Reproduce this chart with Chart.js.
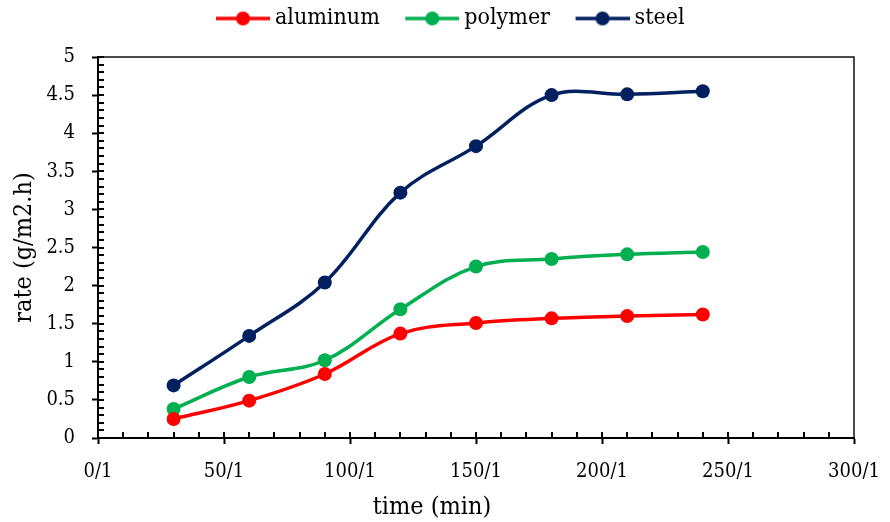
<!DOCTYPE html>
<html><head><meta charset="utf-8">
<script src="https://cdn.jsdelivr.net/npm/chart.js@4.4.1/dist/chart.umd.min.js"></script>
<style>html,body{margin:0;padding:0;background:#fff;overflow:hidden}#wrap{width:890px;height:522px}</style>
</head><body><div id="wrap"><canvas id="c" width="890" height="522"></canvas></div>
<script>
const timeMin = [30, 60, 90, 120, 150, 180, 210, 240];
const aluminum = [0.25, 0.49, 0.84, 1.37, 1.51, 1.57, 1.60, 1.62];
const polymer = [0.38, 0.80, 1.02, 1.69, 2.25, 2.35, 2.41, 2.44];
const steel = [0.69, 1.34, 2.04, 3.22, 3.83, 4.50, 4.51, 4.55];
const seriesNames = ['aluminum', 'polymer', 'steel'];
const seriesValues = [aluminum, polymer, steel];
const seriesColors = ['#FF0000', '#00B050', '#002060'];
const xTickSuffix = '/1';
const xAxisTitle = 'time (min)';
const yAxisTitle = 'rate (g/m2.h)';

const FONT = "'DejaVu Serif Condensed', 'DejaVu Serif', serif";
const LEG_FONT = 23;
const LEG_PAD = 7;
const LEG_BOX = 66;
const X_TITLE_SHIFT = -44;
const LEGEND_SHIFT = 14;

function legendIcon(color) {
  const W = LEG_BOX + Math.round(LEG_FONT / 2) + 1;
  const cv = document.createElement('canvas');
  cv.width = W; cv.height = 16;
  const g = cv.getContext('2d');
  g.strokeStyle = color; g.lineWidth = 3.5;
  g.beginPath(); g.moveTo(W - 54, 8); g.lineTo(W, 8); g.stroke();
  g.fillStyle = color; g.beginPath(); g.arc(W - 27, 8, 7, 0, Math.PI * 2); g.fill();
  return cv;
}
const icons = seriesColors.map(legendIcon);

const datasets = seriesNames.map((n, i) => ({
  label: n,
  data: timeMin.map((t, k) => ({x: t, y: seriesValues[i][k]})),
  borderColor: seriesColors[i],
  backgroundColor: seriesColors[i],
  borderWidth: 3.5,
  pointRadius: 7,
  pointHoverRadius: 7,
  pointBorderWidth: 0,
  tension: 0.37,
  fill: false
}));

const decor = {
  id: 'decor',
  afterLayout(chart) {
    const lg = chart.legend;
    if (lg) { lg.left += LEGEND_SHIFT; lg.right += LEGEND_SHIFT; }
    const xs = chart.scales.x;
    if (xs && !xs._titleShifted) {
      const orig = xs.drawTitle;
      xs.drawTitle = function () {
        this.left += X_TITLE_SHIFT; this.right += X_TITLE_SHIFT;
        try { orig.apply(this, arguments); }
        finally { this.left -= X_TITLE_SHIFT; this.right -= X_TITLE_SHIFT; }
      };
      xs._titleShifted = true;
    }
  },
  afterDraw(chart) {
    const {ctx, scales: {x, y}} = chart;
    ctx.save();
    const x0 = x.getPixelForValue(0), y0 = y.getPixelForValue(0);
    const xr = x.getPixelForValue(300), yt = y.getPixelForValue(5);
    ctx.lineWidth = 1.5;
    ctx.strokeStyle = '#111';
    ctx.beginPath();
    ctx.moveTo(x0, yt); ctx.lineTo(xr, yt); ctx.lineTo(xr, y0);
    ctx.stroke();
    ctx.lineWidth = 2;
    ctx.strokeStyle = '#000';
    ctx.beginPath();
    for (let v = 1; v <= 50; v++) {
      const py = Math.round(y.getPixelForValue(v / 10));
      ctx.moveTo(x0, py); ctx.lineTo(x0 + 6, py);
    }
    for (let v = 10; v < 300; v += 10) {
      const px = Math.round(x.getPixelForValue(v));
      ctx.moveTo(px, y0); ctx.lineTo(px, y0 - 6);
    }
    ctx.stroke();
    ctx.restore();
  }
};

new Chart(document.getElementById('c'), {
  type: 'line',
  data: {datasets},
  plugins: [decor],
  options: {
    responsive: false,
    animation: false,
    devicePixelRatio: 1,
    layout: {padding: {top: 0, right: 36, bottom: 0, left: 0}},
    plugins: {
      tooltip: {enabled: false},
      legend: {
        position: 'top',
        labels: {
          usePointStyle: true,
          pointStyleWidth: LEG_BOX,
          padding: LEG_PAD,
          color: '#000',
          font: {family: FONT, size: LEG_FONT},
          generateLabels(chart) {
            const items = Chart.defaults.plugins.legend.labels.generateLabels(chart);
            items.forEach((it, i) => { it.pointStyle = icons[i]; });
            return items;
          }
        }
      }
    },
    scales: {
      x: {
        type: 'linear',
        min: 0, max: 300,
        afterFit(s) { s.height = 84; s.paddingRight = 0; s.paddingLeft = 0; },
        ticks: {stepSize: 50, color: '#000', padding: 16, font: {family: FONT, size: 20},
          callback: v => v + xTickSuffix},
        grid: {drawOnChartArea: false, drawTicks: true, tickLength: 6, tickColor: '#000', tickWidth: 2},
        border: {display: true, color: '#000', width: 2},
        title: {display: true, text: xAxisTitle, color: '#000', font: {family: FONT, size: 25}, padding: {top: 0, bottom: 0}}
      },
      xTopGap: {
        type: 'linear',
        position: 'top',
        display: true,
        min: 0, max: 300,
        afterFit(s) { s.height = 17; s.paddingRight = 0; s.paddingLeft = 0; },
        ticks: {display: false},
        grid: {display: false, drawTicks: false},
        border: {display: false}
      },
      y: {
        min: 0, max: 5,
        afterFit(s) { s.width = 98; },
        ticks: {stepSize: 0.5, color: '#000', padding: 17, font: {family: FONT, size: 20},
          callback: v => String(+v.toFixed(1))},
        grid: {drawOnChartArea: false, drawTicks: true, tickLength: 6, tickColor: '#000', tickWidth: 2},
        border: {display: true, color: '#000', width: 2},
        title: {display: true, text: yAxisTitle, color: '#000', font: {family: FONT, size: 25}, padding: {top: 9, bottom: 0}}
      }
    }
  }
});
</script></body></html>
